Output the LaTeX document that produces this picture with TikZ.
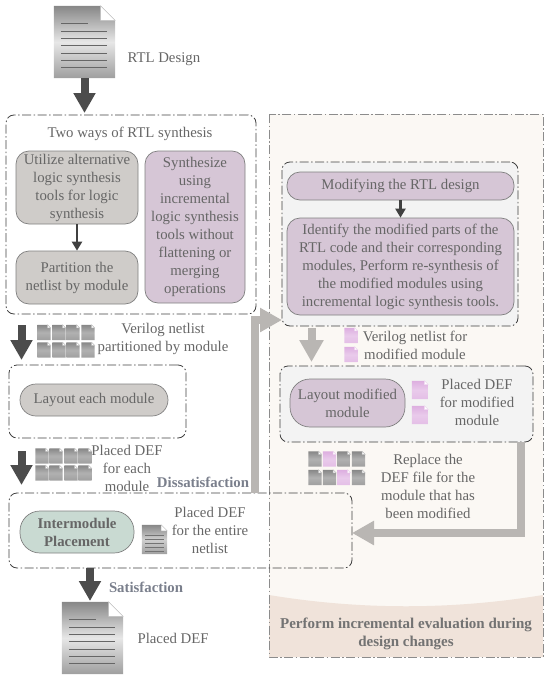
\documentclass[tikz,border=0pt]{standalone}
\usepackage{fontspec}
\setmainfont{Liberation Serif}
\usetikzlibrary{arrows.meta, shadings}
\definecolor{inkgray}{HTML}{666666}
\definecolor{boxgray}{HTML}{CFCCC9}
\definecolor{boxpurple}{HTML}{D6C6D6}
\definecolor{boxgreen}{HTML}{C9DAD2}
\definecolor{panelcream}{HTML}{FBF8F4}
\definecolor{bandtan}{HTML}{F0E3DA}
\definecolor{innergray}{HTML}{F3F3F3}
\definecolor{darkarrow}{HTML}{4C4C4C}
\definecolor{lightarrow}{HTML}{B9B6B3}
\definecolor{lblblue}{HTML}{7A7F8C}
\definecolor{docpink}{HTML}{DDAEE0}
\definecolor{docgray}{HTML}{878787}

% name, x, y, width, height, edge colour, share of edge colour in the middle
\newcommand{\docicon}[7]{%
    \node[inner sep=0, minimum width=#4pt, minimum height=#5pt] (#1) at (#2,#3) {};
    \path[top color=#6, bottom color=#6!80!white, middle color=#6!#7!white]
        (#1.north west) -- ([xshift=-0.24*#4]#1.north east) -- ([yshift=-0.24*#4]#1.north east)
        -- (#1.south east) -- (#1.south west) -- cycle;
    \filldraw[white, draw=#6!50!white, line width=0.4pt] ([xshift=-0.24*#4]#1.north east)
        -- ([xshift=-0.24*#4, yshift=-0.24*#4]#1.north east) -- ([yshift=-0.24*#4]#1.north east) -- cycle;
}

\begin{document}
\begin{tikzpicture}[x=1pt, y=-1pt,
    every node/.style={font=\fontsize{14.8}{18}\selectfont, text=inkgray, align=center},
    group/.style={draw=black!75, line width=0.8pt, rounded corners=8pt,
        dash pattern=on 9pt off 2.5pt on 1.5pt off 2.5pt},
    graybox/.style={draw=black!50, fill=boxgray, line width=0.7pt, rounded corners=13pt, inner sep=0},
    purplebox/.style={graybox, fill=boxpurple},
    greenbox/.style={graybox, fill=boxgreen},
    lbl/.style={font=\fontsize{14.8}{18}\selectfont\bfseries},
    darkblock/.style={draw=darkarrow, line width=8pt, -{Triangle[length=20pt, width=21pt, fill=darkarrow]}},
    lightblock/.style={draw=lightarrow, line width=8pt, -{Triangle[length=22pt, width=23pt, fill=lightarrow]}},
    thinarrow/.style={draw=black!75, line width=2.5pt, -{Triangle[length=9pt, width=10pt]}}
]
    \useasboundingbox (0,0) rectangle (550,680);

    % right panel
    \fill[panelcream] (269,114) rectangle (543,657);
    \fill[bandtan] (269,595) .. controls (360,610) and (452,610) .. (543,595) -- (543,657) -- (269,657) -- cycle;
    \draw[black!45, line width=0.7pt, dash pattern=on 9pt off 2.5pt on 1.5pt off 2.5pt] (269,114) rectangle (543,657);
    \node[lbl, text=black!55, font=\fontsize{15}{18}\selectfont\bfseries] (evalnote) at (406,633.5) {Perform incremental evaluation during\\design changes};

    % left column
    \docicon{rtl}{84.5}{42}{61}{72}{docgray}{20}
    \draw[black!60, line width=0.7pt] (61,23) -- (88,23);
    \foreach \y in {31,38,45,53,60,67} {
        \draw[black!60, line width=0.7pt] (61,\y) -- (107,\y);
    }
    \node[anchor=west] (rtltxt) at (124,59) {RTL Design};
    \node[group, minimum width=250pt, minimum height=199pt] (synth) at (131,214.5) {};
    \node (synthtxt) at (130,134) {Two ways of RTL synthesis};
    \node[graybox, minimum width=122pt, minimum height=73pt] (altsyn) at (77,187.5) {Utilize alternative\\logic synthesis\\tools for logic\\synthesis};
    \node[graybox, minimum width=122pt, minimum height=53pt] (part) at (77,277.5) {Partition the\\netlist by module};
    \node[purplebox, minimum width=100pt, minimum height=152pt] (incsyn) at (195,227) {Synthesize\\using\\incremental\\logic synthesis\\tools without\\flattening or\\merging\\operations};
    \draw[thinarrow] (altsyn) -- (part);

    \node[group, minimum width=177pt, minimum height=73pt] (layout) at (97.5,401.5) {};
    \node[graybox, rounded corners=16pt, minimum width=148pt, minimum height=32pt] (laymod) at (94,400) {Layout each module};
    \node (vlogtxt) at (163,339) {Verilog netlist\\partitioned by module};

    \node[group, minimum width=343pt, minimum height=75pt] (place) at (180.5,530.5) {};
    \node[greenbox, rounded corners=20pt, minimum width=114pt, minimum height=42pt, font=\fontsize{14.8}{18}\selectfont\bfseries] (inter) at (77,532) {Intermodule\\Placement};
    \docicon{entire}{154.5}{539.5}{25}{29}{docgray}{40}
    \foreach \y in {535,539,543,547,551} {
        \draw[black!55, line width=0.5pt] (145,\y) -- (164,\y);
    }
    \node (entiretxt) at (210,530) {Placed DEF\\for the entire\\netlist};
    \node (eachtxt) at (127,468) {Placed DEF\\for each\\module};
    \node[lbl, text=lblblue] (dissat) at (203,482) {Dissatisfaction};
    \node[lbl, text=lblblue] (sat) at (146,587) {Satisfaction};
    \docicon{final}{92.5}{638}{61}{72}{docgray}{20}
    \draw[black!60, line width=0.7pt] (69,619) -- (96,619);
    \foreach \y in {627,634,641,649,656,663} {
        \draw[black!60, line width=0.7pt] (69,\y) -- (115,\y);
    }
    \node[anchor=west] (finaltxt) at (134,638) {Placed DEF};

    % small files
    \foreach \x/\n in {44/a,59/b,73/c,88/d} {
        \docicon{v1\n}{\x}{332.5}{13}{15}{docgray}{65}
        \docicon{v2\n}{\x}{350}{13}{15}{docgray}{65}
    }
    \foreach \x/\n in {42/a,56/b,71/c,85/d} {
        \docicon{p1\n}{\x}{456}{13}{15}{docgray}{65}
        \docicon{p2\n}{\x}{473}{13}{15}{docgray}{65}
    }

    % right column
    \node[group, fill=innergray, minimum width=236pt, minimum height=164pt] (redo) at (400,244) {};
    \node[purplebox, minimum width=227pt, minimum height=28pt] (modrtl) at (400.5,186) {Modifying the RTL design};
    \node[purplebox, minimum width=227pt, minimum height=97pt] (resyn) at (400.5,266.5) {Identify the modified parts of the\\RTL code and their corresponding\\modules, Perform re-synthesis of\\the modified modules using\\incremental logic synthesis tools.};
    \draw[thinarrow] (modrtl) -- (resyn);

    \docicon{m1}{351}{335.5}{13}{15}{docpink}{65}
    \docicon{m2}{351}{354.5}{13}{15}{docpink}{65}
    \node (modtxt) at (415,345) {Verilog netlist for\\modified module};

    \node[group, fill=innergray, minimum width=253pt, minimum height=76pt] (relay) at (406.5,404) {};
    \node[purplebox, rounded corners=20pt, minimum width=115pt, minimum height=48pt] (laynew) at (347.5,403) {Layout modified\\module};
    \docicon{n1}{420}{390}{16}{18}{docpink}{65}
    \docicon{n2}{420}{415}{16}{18}{docpink}{65}
    \node (newtxt) at (477,402) {Placed DEF\\for modified\\module};

    \foreach \x/\n/\c in {315/a/docgray,329.5/b/docpink,344/c/docgray,358.5/d/docgray} {
        \docicon{r1\n}{\x}{459}{13}{15}{\c}{65}
    }
    \foreach \x/\n/\c in {315/a/docgray,329.5/b/docgray,344/c/docpink,358.5/d/docgray} {
        \docicon{r2\n}{\x}{477.5}{13}{15}{\c}{65}
    }
    \node (reptxt) at (428,486) {Replace the\\DEF file for the\\module that has\\been modified};

    % block arrows
    \coordinate (rtlend) at (84.5,113);
    \coordinate (vtop) at (21.5,325);
    \coordinate (vend) at (21.5,360);
    \coordinate (ptop) at (21.5,451);
    \coordinate (pend) at (21.5,485);
    \coordinate (sattop) at (90,568);
    \coordinate (satend) at (90,601);
    \coordinate (mtop) at (311.5,328);
    \coordinate (mend) at (311.5,362);
    \coordinate (upstart) at (255,493);
    \coordinate (upend) at (282,320);
    \coordinate (backstart) at (521,442);
    \coordinate (backend) at (352,533);
    \draw[darkblock] (rtl.south) -- (rtlend);
    \draw[darkblock] (vtop) -- (vend);
    \draw[darkblock] (ptop) -- (pend);
    \draw[darkblock] (sattop) -- (satend);
    \draw[lightblock] (upstart) |- (upend);
    \draw[lightblock] (mtop) -- (mend);
    \draw[lightblock] (backstart) |- (backend);
\end{tikzpicture}
\end{document}
